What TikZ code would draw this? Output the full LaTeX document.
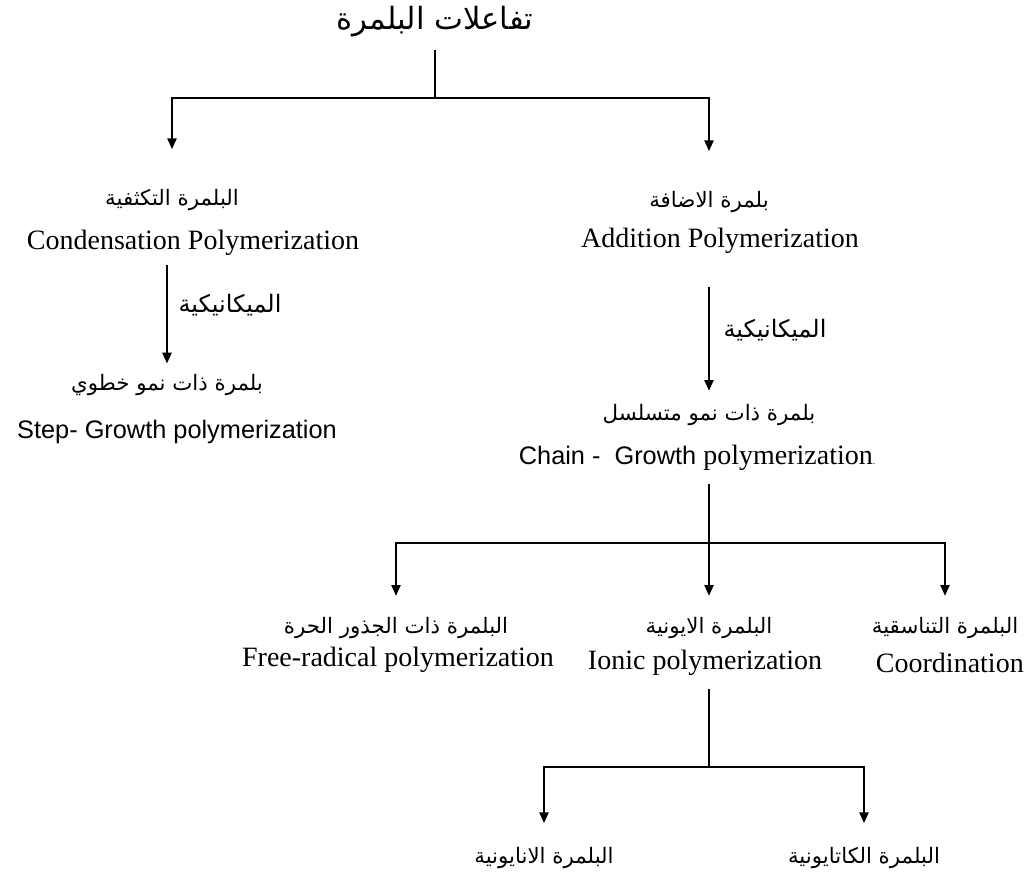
\documentclass[tikz,border=0pt]{standalone}
\usepackage{fontspec}
\setmainfont{Liberation Serif}
\setsansfont{Liberation Sans}
\newfontfamily\arabicfont[Script=Arabic]{DejaVu Sans}
\TeXXeTstate=1
\usetikzlibrary{arrows.meta}
\newcommand{\rtl}[1]{\beginR #1\endR}

\tikzset{
  en/.style={font=\fontsize{21}{25}\selectfont\rmfamily, inner sep=0pt},
  ensf/.style={font=\fontsize{19}{23}\selectfont\sffamily, inner sep=0pt},
  ara/.style={font=\fontsize{16}{19}\selectfont\arabicfont, inner sep=0pt},
  mech/.style={font=\fontsize{18}{21}\selectfont\arabicfont, inner sep=0pt},
  link/.style={line width=1pt},
  arr/.style={line width=1pt, -{Triangle[width=7pt,length=8pt]}},
}

\begin{document}
\begin{tikzpicture}[x=0.75pt,y=-0.75pt]
  \useasboundingbox (0,0) rectangle (1026,876);

  % root
  \node (title) [font=\fontsize{23}{27}\selectfont\arabicfont, inner sep=0pt] at (435,22) {\rtl{تفاعلات البلمرة}};
  \coordinate (fork1) at (435,98);

  % condensation branch
  \node (condAr) [ara] at (172,200) {\rtl{البلمرة التكثفية}};
  \node (condEn) [en] at (193,243) {Condensation Polymerization};
  \node (mechL) [mech] at (230,305) {\rtl{الميكانيكية}};
  \node (stepAr) [ara] at (167,385) {\rtl{بلمرة ذات نمو خطوي}};
  \node (stepEn) [ensf] at (177,432) {Step- Growth polymerization};

  % addition branch
  \node (addAr) [ara] at (709,202) {\rtl{بلمرة الاضافة}};
  \node (addEn) [en] at (720,241) {Addition Polymerization};
  \node (mechR) [mech] at (775,330) {\rtl{الميكانيكية}};
  \node (chainAr) [ara] at (709,415) {\rtl{بلمرة ذات نمو متسلسل}};
  \node (chainEn) [en] at (697,458) {\textsf{\fontsize{19}{23}\selectfont Chain -\ \ Growth} polymerization{\fontsize{7}{7}\selectfont.}};
  \coordinate (fork2) at (709,543);

  % kinds of chain growth
  \node (radAr) [ara] at (396,628) {\rtl{البلمرة ذات الجذور الحرة}};
  \node (radEn) [en] at (398,660) {Free-radical polymerization};
  \node (ionAr) [ara] at (709,628) {\rtl{البلمرة الايونية}};
  \node (ionEn) [en] at (705,663) {Ionic polymerization};
  \node (coordAr) [ara] at (945,628) {\rtl{البلمرة التناسقية}};
  \node (coordEn) [en, anchor=east] at (1024,663) {Coordination};
  \coordinate (fork3) at (709,767);

  % ionic
  \node (anAr) [ara] at (544,858) {\rtl{البلمرة الانايونية}};
  \node (catAr) [ara] at (864,858) {\rtl{البلمرة الكاتايونية}};

  \draw[link, shorten <=9pt] (title) -- (fork1);
  \draw[arr, shorten >=30pt] (fork1) -| (condAr);
  \draw[arr, shorten >=30pt] (fork1) -| (addAr);

  \draw[arr, shorten <=7pt, shorten >=8pt] (condEn.south -| stepAr) -- (stepAr);
  \draw[arr, shorten <=25pt, shorten >=10pt] (addEn.south -| chainAr) -- (chainAr);

  \draw[link, shorten <=10pt] (chainEn.south -| fork2) -- (fork2);
  \draw[arr, shorten >=16pt] (fork2) -| (radAr);
  \draw[arr, shorten >=16pt] (fork2) -- (ionAr);
  \draw[arr, shorten >=16pt] (fork2) -| (coordAr);

  \draw[link, shorten <=10pt] (ionEn.south -| fork3) -- (fork3);
  \draw[arr, shorten >=18pt] (fork3) -| (anAr);
  \draw[arr, shorten >=18pt] (fork3) -| (catAr);
\end{tikzpicture}
\end{document}
